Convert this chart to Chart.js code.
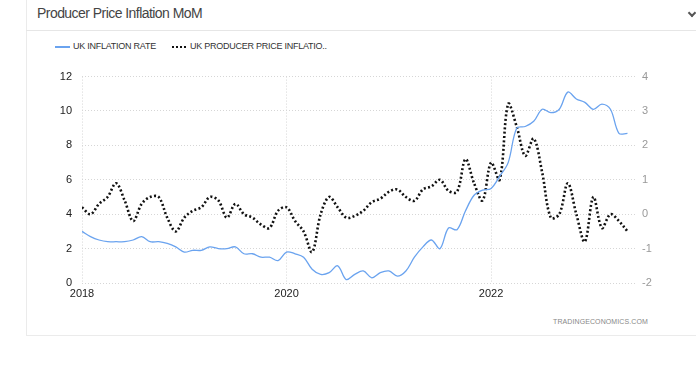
<!DOCTYPE html>
<html>
<head>
<meta charset="utf-8">
<script src="https://cdn.jsdelivr.net/npm/chart.js@4"></script>
<style>
  html, body { margin:0; padding:0; background:#fff; width:696px; height:365px; overflow:hidden; font-family:"Liberation Sans", Arial, sans-serif; }
  #card { position:absolute; left:26px; top:-1px; width:680px; height:337px; border:1px solid #ebebeb; box-sizing:border-box; }
  #head { position:absolute; left:26px; top:0; width:670px; height:30px; border-bottom:1px solid #e6e6e6; }
  #title { position:absolute; left:11px; top:5px; font-size:14px; color:#444; letter-spacing:-0.55px; }
  #chev { position:absolute; left:689px; top:10px; width:4px; height:4px; border-right:2px solid #555; border-bottom:2px solid #555; transform:rotate(45deg); z-index:5; }
  .leg { position:absolute; top:41px; font-size:9px; color:#333; white-space:nowrap; letter-spacing:-0.25px; }
  .sw { position:absolute; top:46px; height:0; }
  #wm { position:absolute; left:553px; top:318px; font-size:7px; color:#888; letter-spacing:0.1px; }
  #c { position:absolute; left:0; top:60px; }
</style>
</head>
<body>
<div id="card"></div>
<div id="head"><div id="title">Producer Price Inflation MoM</div></div>
<div id="chev"></div>
<div class="sw" style="left:55px;width:15px;border-top:2px solid #6aa3ef;"></div>
<div class="leg" style="left:73px;">UK INFLATION RATE</div>
<div class="sw" style="left:172px;width:14px;border-top:2px dotted #111;"></div>
<div class="leg" style="left:190px;">UK PRODUCER PRICE INFLATIO..</div>
<div id="wm">TRADINGECONOMICS.COM</div>
<canvas id="c" width="696" height="250"></canvas>
<script>
// months since Jan 2018 (index 0) through May 2023 (index 64)
const inflationRate = [
  3.0,2.7,2.5,2.4,2.4,2.4,2.5,2.7,2.4,2.4,2.3,2.1,
  1.8,1.9,1.9,2.1,2.0,2.0,2.1,1.7,1.7,1.5,1.5,1.3,
  1.8,1.7,1.5,0.8,0.5,0.6,1.0,0.2,0.5,0.7,0.3,0.6,
  0.7,0.4,0.7,1.5,2.1,2.5,2.0,3.2,3.1,4.2,5.1,5.4,
  5.5,6.2,7.0,9.0,9.1,9.4,10.1,9.9,10.1,11.1,10.7,10.5,
  10.1,10.4,10.1,8.7,8.7
];
const producerPriceMoM = [
  0.2,0.0,0.3,0.5,0.9,0.4,-0.2,0.3,0.5,0.5,-0.1,-0.5,
  -0.1,0.1,0.2,0.5,0.4,-0.1,0.3,0.0,-0.1,-0.3,-0.4,0.1,
  0.2,-0.2,-0.5,-1.1,0.0,0.5,0.2,-0.1,-0.05,0.1,0.35,0.45,
  0.65,0.72,0.5,0.39,0.72,0.81,1.0,0.68,0.65,1.6,0.9,0.4,
  1.5,1.0,3.2,2.55,1.7,2.2,1.2,-0.1,0.0,0.9,0.0,-0.8,
  0.5,-0.4,0.0,-0.2,-0.5
];
const tickMonths = [0, 24, 48];
const tickLabels = ['2018', '2020', '2022'];

const toPts = arr => arr.map((v, i) => ({x: i, y: v}));

new Chart(document.getElementById('c'), {
  type: 'line',
  data: {
    datasets: [
      { label: 'UK INFLATION RATE', data: toPts(inflationRate), yAxisID: 'y',
        borderColor: '#6aa3ef', borderWidth: 1.3, pointRadius: 0, tension: 0.35, fill: false },
      { label: 'UK PRODUCER PRICE INFLATION MOM', data: toPts(producerPriceMoM), yAxisID: 'y2',
        borderColor: '#111', borderWidth: 2.6, borderDash: [2, 2.3], pointRadius: 0, tension: 0.35, fill: false }
    ]
  },
  options: {
    responsive: false,
    animation: false,
    layout: { padding: { top: 14, left: 0, right: 0, bottom: 0 } },
    plugins: { legend: { display: false }, tooltip: { enabled: false } },
    scales: {
      x: {
        type: 'linear', min: 0, max: 65,
        afterBuildTicks: s => { s.ticks = tickMonths.map(v => ({value: v})); },
        afterFit: s => { s.height = 27; },
        ticks: { callback: (v) => tickLabels[tickMonths.indexOf(v)] ?? '', color: '#222',
                 font: { size: 11, family: 'Liberation Sans' }, padding: 4, maxRotation: 0 },
        grid: { color: '#d6d6d6', lineWidth: 1, drawTicks: false },
        border: { display: false, dash: [1, 2] }
      },
      y: {
        position: 'left', min: 0, max: 12,
        afterFit: s => { s.width = 82; },
        ticks: { stepSize: 2, color: '#222', font: { size: 11, family: 'Liberation Sans' }, padding: 10 },
        grid: { color: '#d6d6d6', lineWidth: 1, drawTicks: false },
        border: { display: false, dash: [1, 2] }
      },
      y2: {
        position: 'right', min: -2, max: 4,
        afterFit: s => { s.width = 60; },
        ticks: { stepSize: 1, color: '#999', font: { size: 11, family: 'Liberation Sans' }, padding: 6 },
        grid: { display: false, drawTicks: false },
        border: { display: false }
      }
    }
  }
});
</script>
</body>
</html>
